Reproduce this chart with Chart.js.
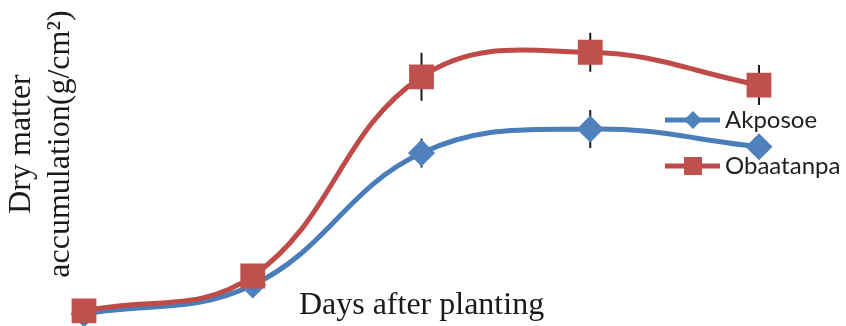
<!DOCTYPE html>
<html lang="en">
<head>
    <meta charset="UTF-8">
    <title>Dry matter accumulation</title>
    <style>
        body {
            margin: 0;
            padding: 0;
            background: #fff;
        }
        #chart {
            display: block;
        }
    </style>
</head>
<body>
    <canvas id="chart" width="846" height="326"></canvas>

    <script src="https://cdn.jsdelivr.net/npm/chart.js"></script>
    <script>
        // sampling stages (no tick labels shown in the figure)
        const stages = ['1', '2', '3', '4', '5'];

        const akposoe = [0.23, 1.31, 6.26, 7.16, 6.50];
        const akposoeErr = [0.1, 0.25, 0.54, 0.71, 0.44];

        const obaatanpa = [0.34, 1.65, 9.12, 10.04, 8.81];
        const obaatanpaErr = [0.1, 0.25, 0.90, 0.73, 0.75];

        const xTitle = 'Days after planting';
        const yTitle = ['Dry matter', 'accumulation(g/cm\u00B2)'];

        const serif = '32px "Liberation Serif", "Times New Roman", serif';

        // vertical error bars, drawn under the lines
        const errorBars = {
            id: 'errorBars',
            beforeDatasetsDraw(chart) {
                const ctx = chart.ctx;
                const y = chart.scales.y;
                ctx.save();
                ctx.strokeStyle = '#1a1a1a';
                ctx.lineWidth = 2;
                chart.data.datasets.forEach((ds, i) => {
                    const meta = chart.getDatasetMeta(i);
                    meta.data.forEach((pt, j) => {
                        const v = ds.data[j];
                        const e = ds.errors[j];
                        ctx.beginPath();
                        ctx.moveTo(pt.x, y.getPixelForValue(v + e));
                        ctx.lineTo(pt.x, y.getPixelForValue(v - e));
                        ctx.stroke();
                    });
                });
                ctx.restore();
            }
        };

        // axis titles: the original puts them partly inside the plot area
        const axisTitles = {
            id: 'axisTitles',
            beforeDatasetsDraw(chart) {
                const ctx = chart.ctx;
                const area = chart.chartArea;
                ctx.save();
                ctx.fillStyle = '#1a1a1a';
                ctx.font = serif;
                ctx.textAlign = 'center';
                ctx.textBaseline = 'middle';
                ctx.fillText(xTitle, (area.left + area.right) / 2, 306);

                ctx.translate(0, 144);
                ctx.rotate(-Math.PI / 2);
                yTitle.forEach((line, i) => {
                    ctx.fillText(line, 0, 22 + i * 39);
                });
                ctx.restore();
            }
        };

        // legend sits over the plot, like the original
        const overlayLegend = {
            id: 'overlayLegend',
            afterDraw(chart) {
                const ctx = chart.ctx;
                const rows = [120, 166];
                ctx.save();
                chart.data.datasets.forEach((ds, i) => {
                    const cy = rows[i];
                    ctx.strokeStyle = ds.borderColor;
                    ctx.lineWidth = 5;
                    ctx.beginPath();
                    ctx.moveTo(665, cy);
                    ctx.lineTo(720, cy);
                    ctx.stroke();

                    ctx.fillStyle = ds.pointBackgroundColor;
                    ctx.beginPath();
                    if (ds.pointStyle === 'rectRot') {
                        ctx.moveTo(693, cy - 9);
                        ctx.lineTo(702, cy);
                        ctx.lineTo(693, cy + 9);
                        ctx.lineTo(684, cy);
                        ctx.closePath();
                    } else {
                        ctx.rect(693 - 9, cy - 9, 18, 18);
                    }
                    ctx.fill();

                    ctx.fillStyle = '#222';
                    ctx.font = '24px Lato';
                    ctx.textBaseline = 'middle';
                    ctx.fillText(ds.label, 725, cy);
                });
                ctx.restore();
            }
        };

        const ctx = document.getElementById('chart').getContext('2d');

        new Chart(ctx, {
            type: 'line',
            data: {
                labels: stages,
                datasets: [
                    {
                        label: 'Akposoe',
                        data: akposoe,
                        errors: akposoeErr,
                        order: 1,
                        borderColor: '#4A7EBB',
                        backgroundColor: '#4F81BD',
                        pointBackgroundColor: '#4F81BD',
                        pointBorderColor: '#4F81BD',
                        pointStyle: 'rectRot',
                        pointRadius: 10,
                        borderWidth: 5,
                        tension: 0.4,
                        clip: false
                    },
                    {
                        label: 'Obaatanpa',
                        data: obaatanpa,
                        errors: obaatanpaErr,
                        order: 0,
                        borderColor: '#BE4B48',
                        backgroundColor: '#C0504D',
                        pointBackgroundColor: '#C0504D',
                        pointBorderColor: '#C0504D',
                        pointStyle: 'rect',
                        pointRadius: 14,
                        borderWidth: 5,
                        tension: 0.4,
                        clip: false
                    }
                ]
            },
            options: {
                responsive: false,
                animation: false,
                layout: {
                    autoPadding: false,
                    padding: { top: 0, left: 84, right: 87, bottom: 6 }
                },
                plugins: {
                    legend: { display: false },
                    tooltip: { enabled: false }
                },
                scales: {
                    x: { display: false },
                    y: { display: false, min: 0, max: 12 }
                }
            },
            plugins: [axisTitles, errorBars, overlayLegend]
        });
    </script>
</body>
</html>
